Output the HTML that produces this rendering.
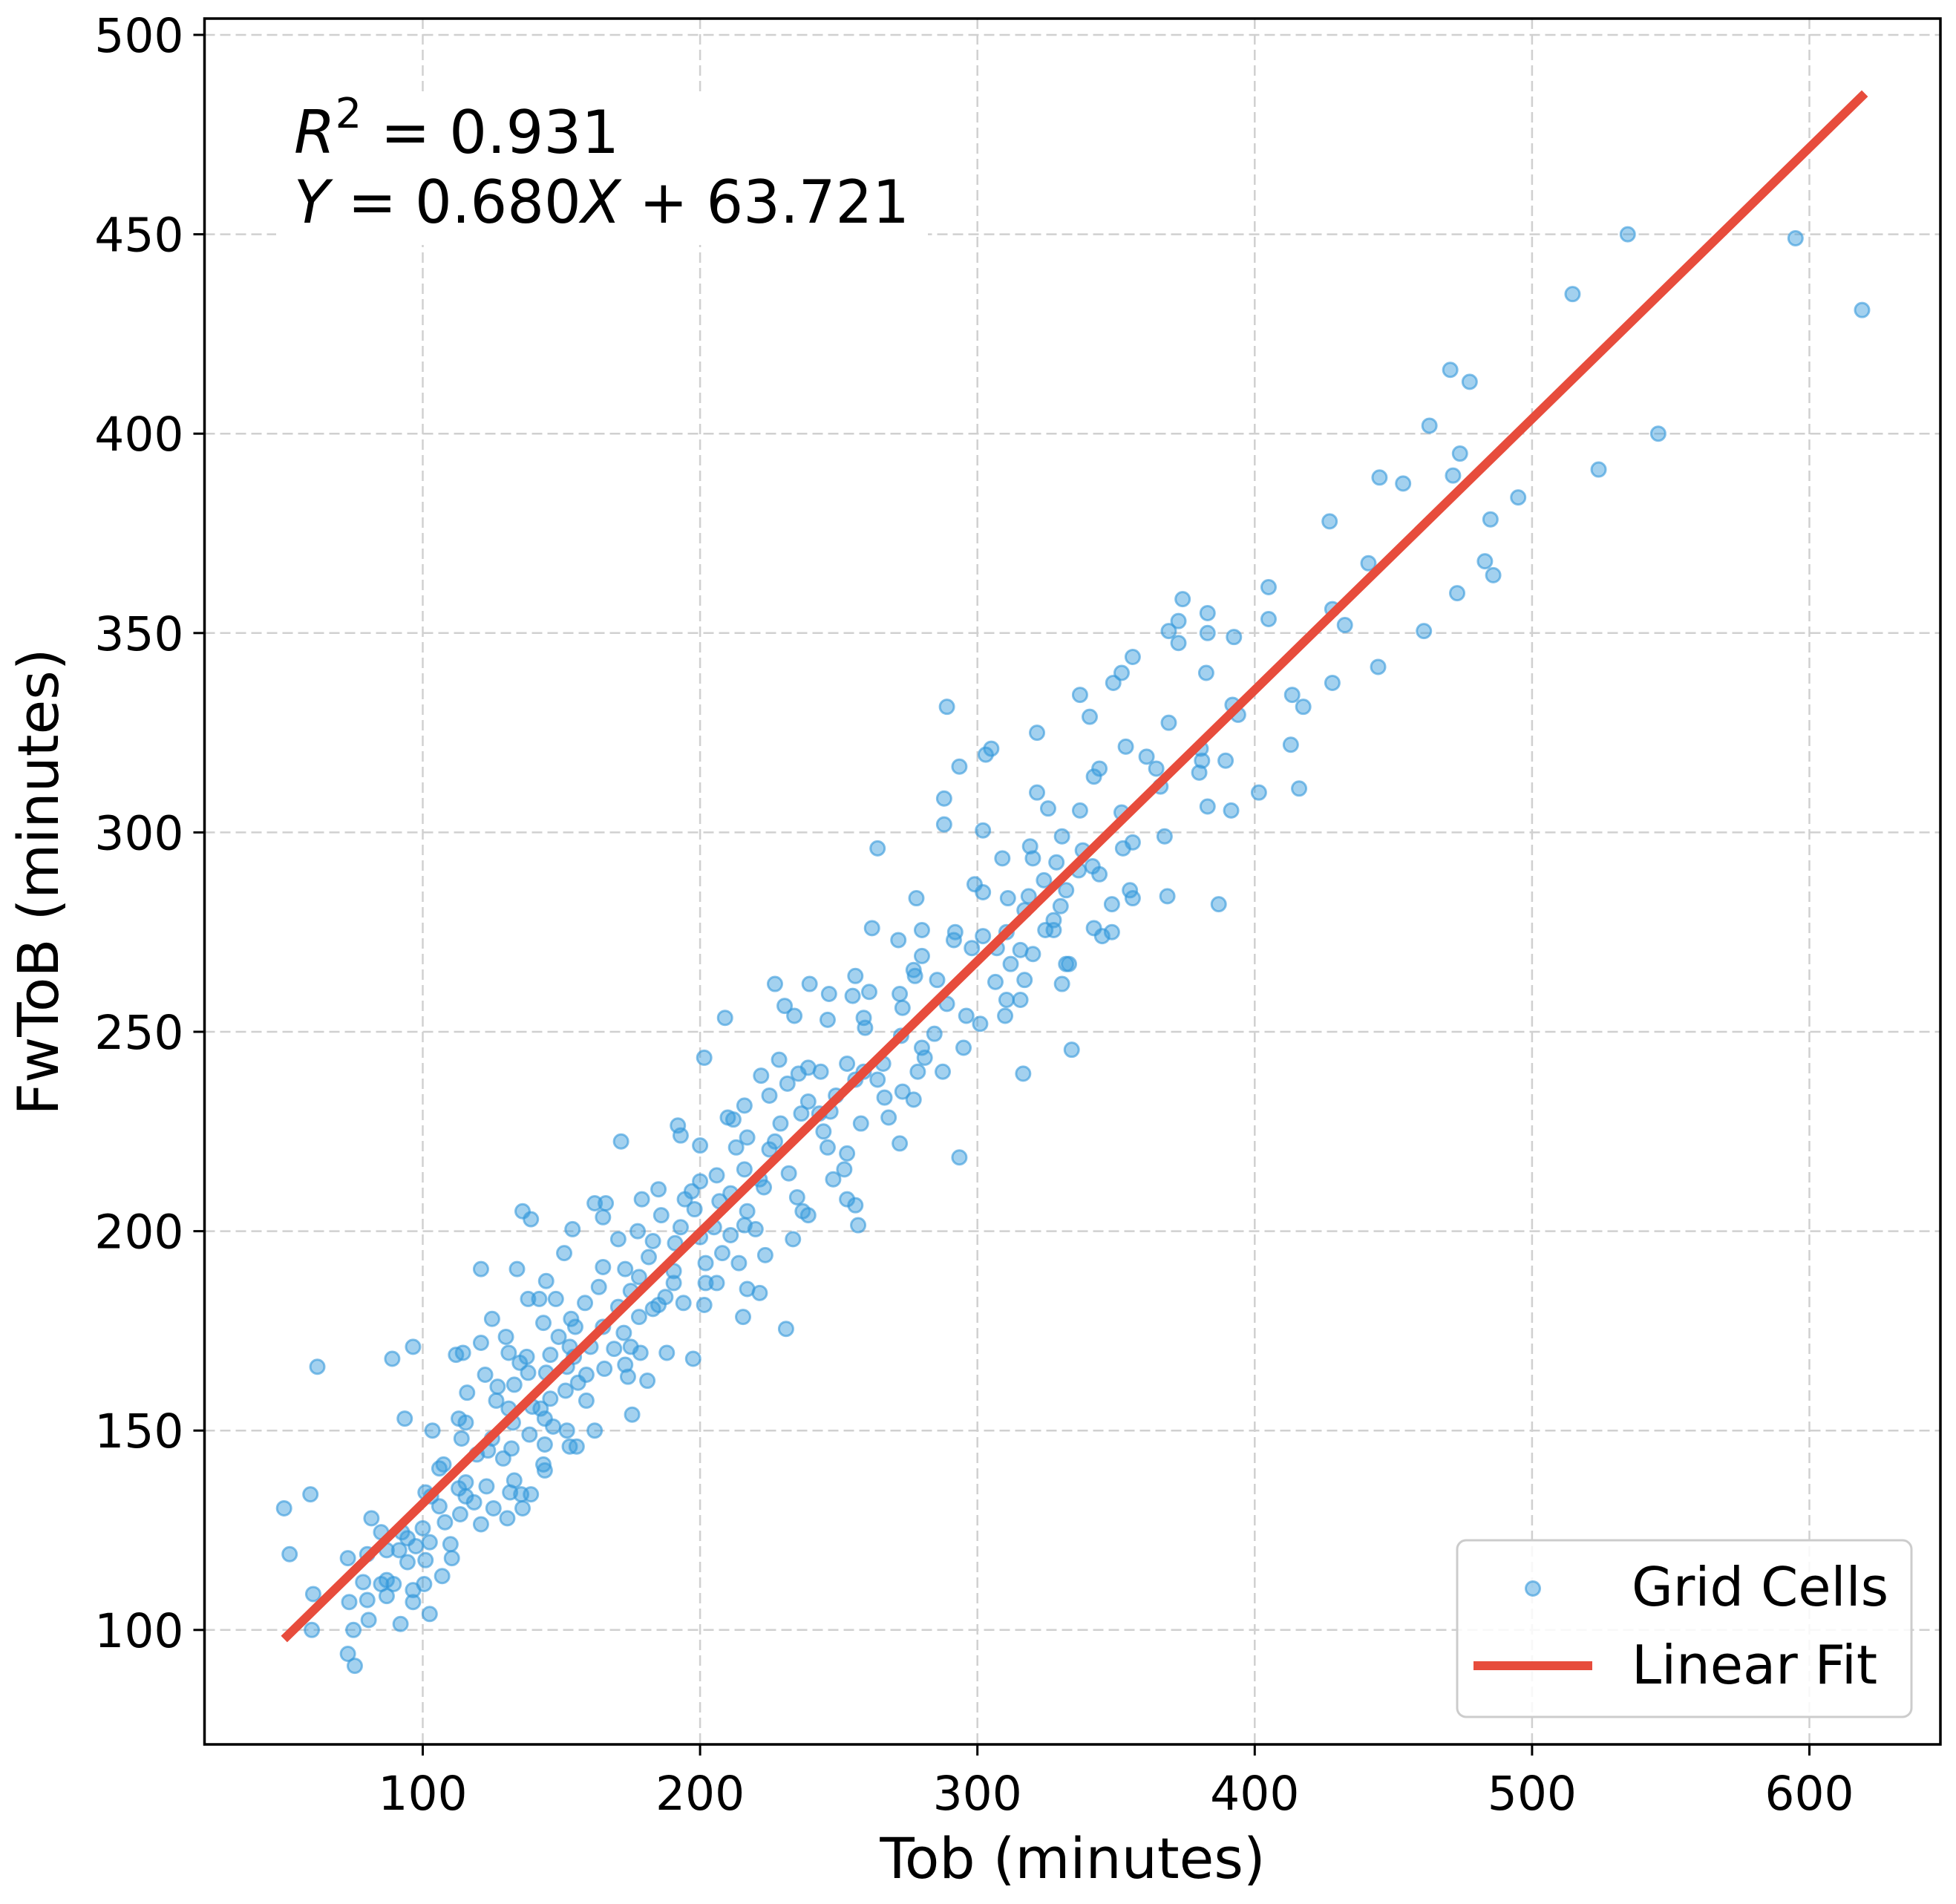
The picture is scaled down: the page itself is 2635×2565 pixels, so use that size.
<!DOCTYPE html>
<html><head><meta charset="utf-8"><style>
html,body{margin:0;padding:0;background:#fff;}
svg{display:block;font-family:"DejaVu Sans","Liberation Sans",sans-serif;}
</style></head><body>
<svg id="chart" width="2635" height="2565" viewBox="0 0 2635 2565" xmlns="http://www.w3.org/2000/svg">
<rect width="2635" height="2565" fill="#fff"/>
<g id="grid"></g>
<g id="points"></g>
<g id="fit"></g>
<rect x="275.5" y="25" width="2338.5" height="2325" fill="none" stroke="#000" stroke-width="3.5"/>
<g id="xticks"></g>
<g id="yticks"></g>
<text x="1445" y="2530" font-size="76" text-anchor="middle">Tob (minutes)</text>
<text transform="translate(78,1188) rotate(-90)" font-size="76" text-anchor="middle">FwToB (minutes)</text>
<g>
<rect x="372" y="125" width="878" height="205" fill="#fff"/>
<text x="396" y="206" font-size="80"><tspan font-style="italic">R</tspan><tspan font-size="56" dy="-34">2</tspan><tspan dy="34"> = 0.931</tspan></text>
<text x="396" y="300" font-size="80" textLength="829" lengthAdjust="spacingAndGlyphs"><tspan font-style="italic">Y</tspan> = 0.680<tspan font-style="italic">X</tspan> + 63.721</text>
</g>
<g>
<rect x="1963" y="2075" width="612" height="238" rx="12" fill="#fff" fill-opacity="0.85" stroke="#cccccc" stroke-width="3"/>
<circle cx="2065" cy="2140" r="9.5" fill="#3498db" fill-opacity="0.45" stroke="#3498db" stroke-opacity="0.6" stroke-width="3"/>
<text x="2198" y="2163" font-size="72">Grid Cells</text>
<line x1="1985" y1="2244" x2="2145" y2="2244" stroke="#e74c3c" stroke-width="12"/>
<text x="2198" y="2268" font-size="72">Linear Fit</text>
</g>
</svg>
<script>
const xTicks = [100, 200, 300, 400, 500, 600];
const yTicks = [100, 150, 200, 250, 300, 350, 400, 450, 500];
const fitSlope = 0.680;
const fitIntercept = 63.721;
const fitRange = [50, 620];
const pointData = [
[50,130.5],[52,119],[59.5,134],[62,166],[60.5,109],[60,100],[73,118],[73.5,107],[73,94],[75.5,91],[75,100],[81.5,128],[89,168],[96.5,171],[93.5,153],[92,101.5],[102.5,104],
[534.5,450],[595,449],[619,431],[514.6,435],[545.5,400],[524,391],[470.5,416],[477.5,413],[463,402],[474,395],[471.5,389.5],[445,389],[453.5,387.5],[495,384],[427,378],[485,378.5],[441,367.5],[483,368],[486,364.5],[473,360],[405,361.5],[374,358.5],[428,356],[432.5,352],[405,353.5],[383,355],[372.5,353],[369,350.5],[372.5,347.5],[383,350],[392.5,349],[461,350.5],[356,344],[444.5,341.5],[352,340],[382.5,340],[428,337.5],[349,337.5],[337,334.5],[413.5,334.5],[417.5,331.5],[392,332],[394,329.5],[340.5,329],[369,327.5],[321.5,325],[289,331.5],[413,322],[305,321],[303,319.5],[353.5,321.5],[361,319],[380.5,321],[381,318],[389.5,318],[344,316],[342,314],[380,315],[364.5,316],[293.5,316.5],[416,311],[366,311.5],[401.5,310],[321.5,310],[288,308.5],[383,306.5],[391.5,305.5],[337,305.5],[352,305],[325.5,306],[288,302],[302,300.5],[367.5,299],[330.5,299],[356,297.5],[319,296.5],[264,296],[338,295.5],[320,293.5],[309,293.5],[352.5,296],[328.5,292.5],[341.5,291.5],[336.5,290.5],[344,289.5],[299,287],[324,288],[332,285.5],[302,285],[318.5,284],[368.5,284],[355,285.5],[311,283.5],[278,283.5],[356,283.5],[387,282],[348.5,282],[330,281.5],[317,280.5],[327.5,278],[324.5,275.5],[327.5,275.5],[342,276],[262,276],[345,274],[348.5,275],[310.5,275],[302,274],[292,275],[280,275.5],[291.5,273],[271.5,273],[307,271],[315.5,270.5],[320,269.5],[298,271],[280,269],[312,267],[333,267],[332,267],[277,265.5],[256,264],[277.5,264],[317,263],[306.5,262.5],[330.5,262],[227,262],[239.5,262],[285.5,263],[246.5,259.5],[272,259.5],[261,260],[310.5,258],[315.5,258],[255,259],[289,257],[273,256],[230.5,256.5],[259,253.5],[234,254],[246,253],[310,254],[296,254],[301,252],[209,253.5],[259.5,251],[284.5,249.5],[272.5,249],[280,246],[295,246],[334,245.5],[281,243.5],[228.5,243],[201.5,243.5],[266,242],[253,242],[287.5,240],[316.5,239.5],[243.5,240],[239,241],[278.5,240],[256,238],[264,238],[259,240],[222,239],[235.5,239.5],[231.5,237],[273,235],[249,234],[225,234],[266.5,233.5],[277,233],[239,232.5],[216,231.5],[210,228.5],[236.5,229.5],[247,230],[268,228.5],[229,227],[212,228],[258,227],[244.5,225],[243,229.5],[192,226.5],[171.5,222.5],[272,222],[227,222.5],[246,221],[193,224],[213,221],[217,223.5],[253,219.5],[225,220.5],[200,221.5],[293.5,218.5],[216,215.5],[232,214.5],[252,215.5],[206,214],[221.5,213],[200,212.5],[248,213],[223,211],[185,210.5],[197,210],[211,209.5],[235,208.5],[179,208],[253,208],[194.5,208],[207,207.5],[256,206.5],[162,207],[166,207],[198,205.5],[136,205],[237,205],[139,203],[239,204],[165,203.5],[186,204],[217,205],[216,201.5],[257,201.5],[154,200.5],[205,201],[220,200.5],[193,201],[177.5,200],[200,198.5],[233.5,198],[170.5,198],[183,197.5],[211,199],[191,197],[151,194.5],[208,194.5],[223.5,194],[181.5,193.5],[121,190.5],[134,190.5],[165,191],[173,190.5],[202,192],[190.5,190],[214,192],[178,188.5],[144.5,187.5],[202,187],[175,185],[190.5,187],[217,185.5],[221.5,184.5],[206,187],[163.5,186],[138,183],[148,183],[142,183],[187.5,183.5],[194,182],[201.5,181.5],[185,181.5],[158.5,182],[170.5,181],[183,180.5],[215.5,178.5],[178,178.5],[125,178],[153.5,178],[155,176],[143.5,177],[165,176],[231,175.5],[172.5,174.5],[130,173.5],[121,172],[149,173.5],[175,171],[160.5,171],[153,171],[169,170.5],[114.5,169.5],[112,169],[131,169.5],[137.5,168.5],[146,169],[154.5,168.5],[188,169.5],[178.5,169.5],[197.5,168],[135,167],[152,166],[165.5,165.5],[173,166.5],[144.5,164.5],[138,164.5],[159,164],[122.5,164],[181,162.5],[174,163.5],[133,161.5],[156,162],[127,161],[151.5,160],[116,159.5],[146,158],[159,157.5],[126.5,157.5],[139.5,156],[131,155.5],[142.5,155.5],[175.5,154],[113,153],[115.5,152],[144,153],[132.5,152],[147,151],[152,150],[162,150],[103.5,150],[138.5,149],[125,148],[114,148],[144,146.5],[153,146],[155.5,146],[132,145.5],[123.5,145],[119.5,144],[129,143],[107.5,141.5],[106,140.5],[143.5,141.5],[144,140],[133,137.5],[115.5,137],[113,135.5],[123,136],[131.5,134.5],[101,134.5],[103,133.5],[115.5,133.5],[135.5,134],[139,134],[118.5,132],[125.5,130.5],[106,131],[136,130.5],[113.5,129],[130.5,128],[121,126.5],[108,127],[100,125.5],[92.5,124.5],[85,124.5],[94.5,123],[102.5,122],[97.5,121],[91.5,120],[110,121.5],[87,120],[80,119],[110.5,118],[101,117.5],[94.5,117],[107,113.5],[100.5,111.5],[87,112.5],[78.5,112],[89.5,111.5],[85,111.5],[96.5,110],[87,108.5],[80,107.5],[96.5,107],[80.5,102.5]
];
const NS = 'http://www.w3.org/2000/svg';
const plot = {left: 275.5, right: 2614, top: 25, bottom: 2350};
function xScale(v){ return 195.9 + 3.736 * v; }
function yScale(v){ return 2733 - 5.372 * v; }
function mk(tag, attrs, parent){ const e = document.createElementNS(NS, tag); for (const k in attrs) e.setAttribute(k, attrs[k]); parent.appendChild(e); return e; }
const grid = document.getElementById('grid');
const xg = document.getElementById('xticks');
const yg = document.getElementById('yticks');
xTicks.forEach(t => {
  const x = xScale(t);
  const gl = mk('line', {x1:x, x2:x, y1:plot.top, y2:plot.bottom, stroke:'#d0d0d0', 'stroke-width':2.5, 'stroke-dasharray':'14 7'}, grid);
  
  
  const tk = mk('line', {x1:x, x2:x, y1:plot.bottom, y2:plot.bottom+15, stroke:'#000', 'stroke-width':3}, xg);
  
  
  const lb = mk('text', {x:x, y:2438, 'font-size':63, 'text-anchor':'middle'}, xg);
  lb.textContent = t;
  
  
});
yTicks.forEach(t => {
  const y = yScale(t);
  const gl = mk('line', {x1:plot.left, x2:plot.right, y1:y, y2:y, stroke:'#d0d0d0', 'stroke-width':2.5, 'stroke-dasharray':'14 7'}, grid);
  
  
  const tk = mk('line', {x1:plot.left-15, x2:plot.left, y1:y, y2:y, stroke:'#000', 'stroke-width':3}, yg);
  
  
  const lb = mk('text', {x:plot.left-28, y:y+23, 'font-size':63, 'text-anchor':'end'}, yg);
  lb.textContent = t;
  
  
});
const pg = document.getElementById('points');
pointData.forEach(p => {
  const c = mk('circle', {cx:xScale(p[0]), cy:yScale(p[1]), r:9.5, fill:'#3498db', 'fill-opacity':0.45, stroke:'#3498db', 'stroke-opacity':0.6, 'stroke-width':3}, pg);
  
  
});
const fg = document.getElementById('fit');
const fl = mk('line', {x1:xScale(fitRange[0]), y1:yScale(fitSlope*fitRange[0]+fitIntercept), x2:xScale(fitRange[1]), y2:yScale(fitSlope*fitRange[1]+fitIntercept), stroke:'#e74c3c', 'stroke-width':12}, fg);


</script>
</body></html>
